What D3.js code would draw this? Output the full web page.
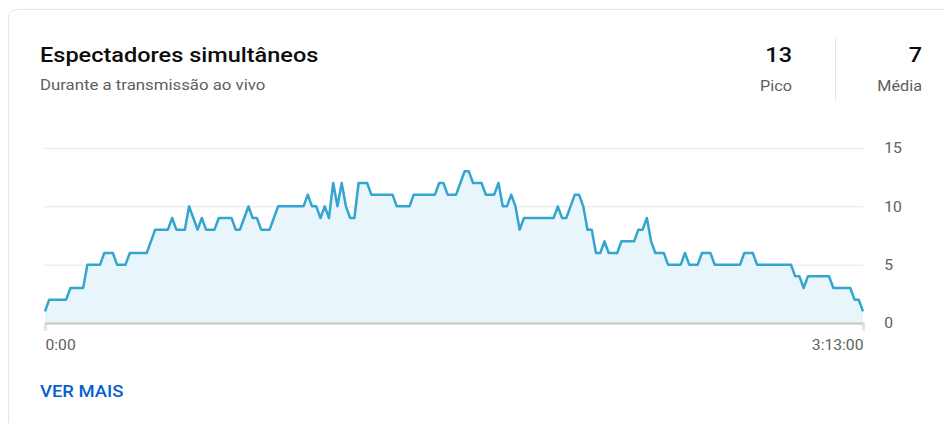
<!DOCTYPE html>
<html>
<head>
  <meta charset="UTF-8">
  <title>Espectadores simultâneos</title>
  <script src="https://cdnjs.cloudflare.com/ajax/libs/d3/7.8.5/d3.min.js"></script>
  <style>
    body {
      margin: 0;
      background: #fff;
      font-family: Roboto, "Noto Sans", sans-serif;
    }
    .axis text {
      font-family: Roboto, sans-serif;
      font-size: 14px;
      fill: #606060;
    }
  </style>
</head>
<body>
<script>
  // concurrent viewers, one value per minute (0:00 .. 3:13:00)
  const viewers = [
    1, 2, 2, 2, 2, 2, 3, 3, 3, 3,
    5, 5, 5, 5, 6, 6, 6, 5, 5, 5,
    6, 6, 6, 6, 6, 7, 8, 8, 8, 8,
    9, 8, 8, 8, 10, 9, 8, 9, 8, 8,
    8, 9, 9, 9, 9, 8, 8, 9, 10, 9,
    9, 8, 8, 8, 9, 10, 10, 10, 10, 10,
    10, 10, 11, 10, 10, 9, 10, 9, 12, 10,
    12, 10, 9, 9, 12, 12, 12, 11, 11, 11,
    11, 11, 11, 10, 10, 10, 10, 11, 11, 11,
    11, 11, 11, 12, 12, 11, 11, 11, 12, 13,
    13, 12, 12, 12, 11, 11, 11, 12, 10, 10,
    11, 10, 8, 9, 9, 9, 9, 9, 9, 9,
    9, 10, 9, 9, 10, 11, 11, 10, 8, 8,
    6, 6, 7, 6, 6, 6, 7, 7, 7, 7,
    8, 8, 9, 7, 6, 6, 6, 5, 5, 5,
    5, 6, 5, 5, 5, 6, 6, 6, 5, 5,
    5, 5, 5, 5, 5, 6, 6, 6, 5, 5,
    5, 5, 5, 5, 5, 5, 5, 4, 4, 3,
    4, 4, 4, 4, 4, 4, 3, 3, 3, 3,
    3, 2, 2, 1
  ];
  const yTicks = [0, 5, 10, 15];
  const xTickLabels = ["0:00", "3:13:00"];
  const stats = [
    {value: "13", label: "Pico"},
    {value: "7", label: "Média"}
  ];

  const W = 944, H = 423;
  const SX = 1.12; // text in the screenshot is a bit wider than normal

  const svg = d3.select("body").append("svg")
    .attr("width", W)
    .attr("height", H);

  // card
  svg.append("rect")
    .attr("x", 8.5).attr("y", 9.5)
    .attr("width", 960).attr("height", 440)
    .attr("rx", 8)
    .attr("fill", "#fff")
    .attr("stroke", "#e5e5e5");

  function label(x0, y0, txt, size, weight, color, anchor) {
    return svg.append("text")
      .attr("transform", `translate(${x0},${y0}) scale(${SX},1)`)
      .attr("text-anchor", anchor || "start")
      .attr("font-size", size)
      .attr("font-weight", weight)
      .attr("fill", color)
      .text(txt);
  }

  // header
  label(40, 62, "Espectadores simultâneos", 21, 500, "#0d0d0d");
  label(40, 90, "Durante a transmissão ao vivo", 15, 400, "#606060");

  const statX = [792, 922];
  stats.forEach((s, i) => {
    label(statX[i], 62, s.value, 21, 500, "#0d0d0d", "end");
    label(statX[i], 91, s.label, 14.5, 400, "#606060", "end");
  });
  svg.append("line")
    .attr("x1", 835.5).attr("x2", 835.5)
    .attr("y1", 38).attr("y2", 101)
    .attr("stroke", "#e5e5e5");

  // scales
  const x = d3.scaleLinear().domain([0, viewers.length - 1]).range([45, 863]);
  const y = d3.scaleLinear().domain([0, 15]).range([323, 148]);

  // y axis on the right, ticks stretched across as gridlines
  const yAxis = svg.append("g")
    .attr("class", "axis")
    .attr("transform", "translate(863,0)")
    .call(d3.axisRight(y).tickValues(yTicks).tickSize(-818).tickPadding(19));
  yAxis.select(".domain").remove();
  yAxis.selectAll(".tick line").attr("stroke", "#e5e5e5");
  yAxis.selectAll(".tick text")
    .attr("dy", "0.35em")
    .attr("transform", `scale(${SX},1)`);

  // area + line
  const area = d3.area()
    .x((d, i) => x(i))
    .y0(y(0))
    .y1(d => y(d));
  const line = d3.line()
    .x((d, i) => x(i))
    .y(d => y(d));

  svg.append("path")
    .datum(viewers)
    .attr("d", area)
    .attr("fill", "#e8f5fb");
  svg.append("path")
    .datum(viewers)
    .attr("d", line)
    .attr("fill", "none")
    .attr("stroke", "#34a5cf")
    .attr("stroke-width", 2.5)
    .attr("stroke-linejoin", "round");

  // x axis
  const xAxis = svg.append("g")
    .attr("class", "axis")
    .attr("transform", "translate(0,323)")
    .call(d3.axisBottom(x)
      .tickValues([0, viewers.length - 1])
      .tickFormat((d, i) => xTickLabels[i])
      .tickSize(8).tickPadding(9));
  xAxis.select(".domain")
    .attr("stroke", "#c6c6c6")
    .attr("stroke-width", 2);
  xAxis.selectAll(".tick line").attr("stroke", "#e5e5e5");
  xAxis.selectAll(".tick text")
    .attr("text-anchor", (d, i) => i === 0 ? "start" : "end")
    .attr("transform", `scale(${SX},1)`);

  // link
  label(40, 397, "VER MAIS", 16.5, 500, "#065fd4");
</script>
</body>
</html>
